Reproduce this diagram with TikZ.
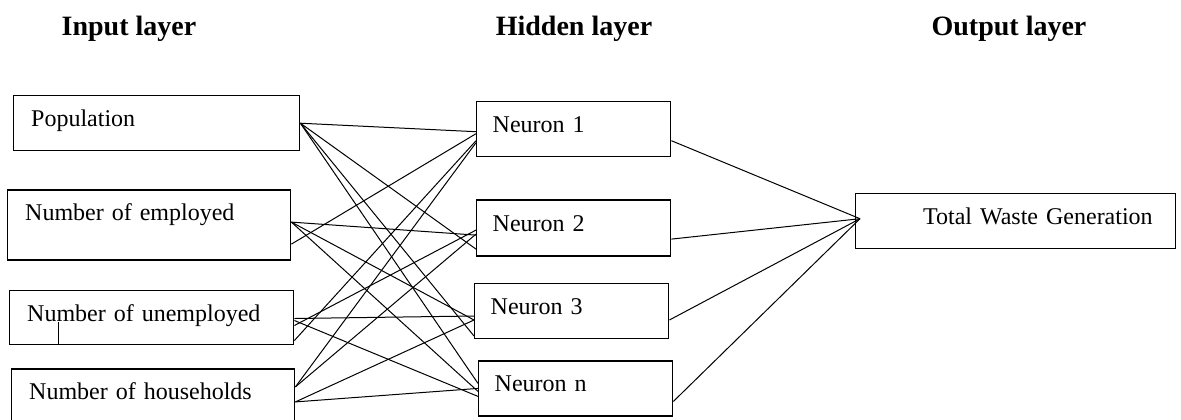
\documentclass[tikz,border=0pt]{standalone}
\usepackage{fontspec}
\setmainfont{Liberation Serif}
\usetikzlibrary{positioning}
\begin{document}
\begin{tikzpicture}[
  box/.style={rectangle,draw=black,line width=0.7pt,align=left,inner ysep=0pt,text height=8.5pt,text depth=5pt,font=\fontsize{12}{14}\selectfont},
  inbox/.style={box,inner xsep=8.75pt,text width=#1,minimum height=27pt},
  hidbox/.style={box,inner xsep=8pt,text width=81pt,minimum height=27.5pt},
  head/.style={font=\bfseries\fontsize{14}{16}\selectfont,anchor=base},
  link/.style={line width=0.5pt}
]
\useasboundingbox (0,0) rectangle (590.5pt,-209.5pt);

		\node[head] (t1) at (64.5pt,-17.5pt) {Input layer};
		\node[head] (t2) at (287pt,-17.5pt) {Hidden layer};
		\node[head] (t3) at (504.5pt,-17.5pt) {Output layer};

		\node[inbox=125.5pt,minimum height=27.5pt,anchor=north west] (in1) at (6.5pt,-47.5pt) {Population};
		\node[inbox=124pt,minimum height=35pt,text depth=13pt,below=19pt of in1,xshift=-3.75pt] (in2) {Number of employed};
		\node[inbox=124.5pt,below=14.5pt of in2,xshift=1.25pt] (in3) {Number of unemployed};
		\node[inbox=124pt,below=11.5pt of in3,xshift=0.75pt] (in4) {Number of households};

		\node[hidbox,anchor=north west] (h1) at (238pt,-50.5pt) {Neuron 1};
		\node[hidbox,minimum height=28pt,below=21pt of h1] (h2) {Neuron 2};
		\node[hidbox,below=13pt of h2,xshift=-1pt] (h3) {Neuron 3};
		\node[hidbox,below=10.5pt of h3,xshift=2pt] (h4) {Neuron n};

		\node[box,inner xsep=11.5pt,text width=137pt,align=right,minimum height=27.5pt,anchor=north west] (out) at (427.5pt,-96.5pt) {Total Waste Generation};

		\draw[link] ([xshift=24.5pt]in3.south west) -- ++(0,11.5pt);

		\draw[link] (in1.east) -- ([yshift=-1.25pt]h1.west);
		\draw[link] (in1.east) -- ([yshift=-10.5pt]h2.west);
		\draw[link] (in1.east) -- ([yshift=-12.5pt]h3.west);
		\draw[link] (in1.east) -- ([yshift=2.5pt]h4.west);
		\draw[link] ([yshift=-9.5pt]in2.east) -- ([yshift=-2.25pt]h1.west);
		\draw[link] ([yshift=1.5pt]in2.east) -- ([yshift=-3.5pt]h2.west);
		\draw[link] ([yshift=1.5pt]in2.east) -- ([yshift=-4.5pt]h3.west);
		\draw[link] ([yshift=1.5pt]in2.east) -- ([yshift=-1.5pt]h4.west);
		\draw[link] ([yshift=-11.5pt]in3.east) -- ([yshift=-5.75pt]h1.west);
		\draw[link] ([yshift=-4pt]in3.east) -- ([yshift=-1pt]h2.west);
		\draw[link] ([yshift=-0.5pt]in3.east) -- ([yshift=-2.5pt]h3.west);
		\draw[link] ([yshift=-1.5pt]in3.east) -- ([yshift=-4pt]h4.west);
		\draw[link] ([yshift=4.5pt]in4.east) -- ([yshift=-6.75pt]h1.west);
		\draw[link] ([yshift=4.5pt]in4.east) -- ([yshift=-3pt]h2.west);
		\draw[link] ([yshift=-3pt]in4.east) -- ([yshift=-4.5pt]h3.west);
		\draw[link] ([yshift=-3pt]in4.east) -- (h4.west);

		\draw[link] ([yshift=-5.75pt]h1.east) -- ([xshift=2.5pt,yshift=1.25pt]out.west);
		\draw[link] ([yshift=-5.5pt]h2.east) -- ([xshift=2.5pt,yshift=1.25pt]out.west);
		\draw[link] ([yshift=-4.5pt]h3.east) -- ([xshift=2.5pt,yshift=1.25pt]out.west);
		\draw[link] ([yshift=-6.5pt]h4.east) -- ([xshift=2.5pt,yshift=1.25pt]out.west);
	\end{tikzpicture}
\end{document}
